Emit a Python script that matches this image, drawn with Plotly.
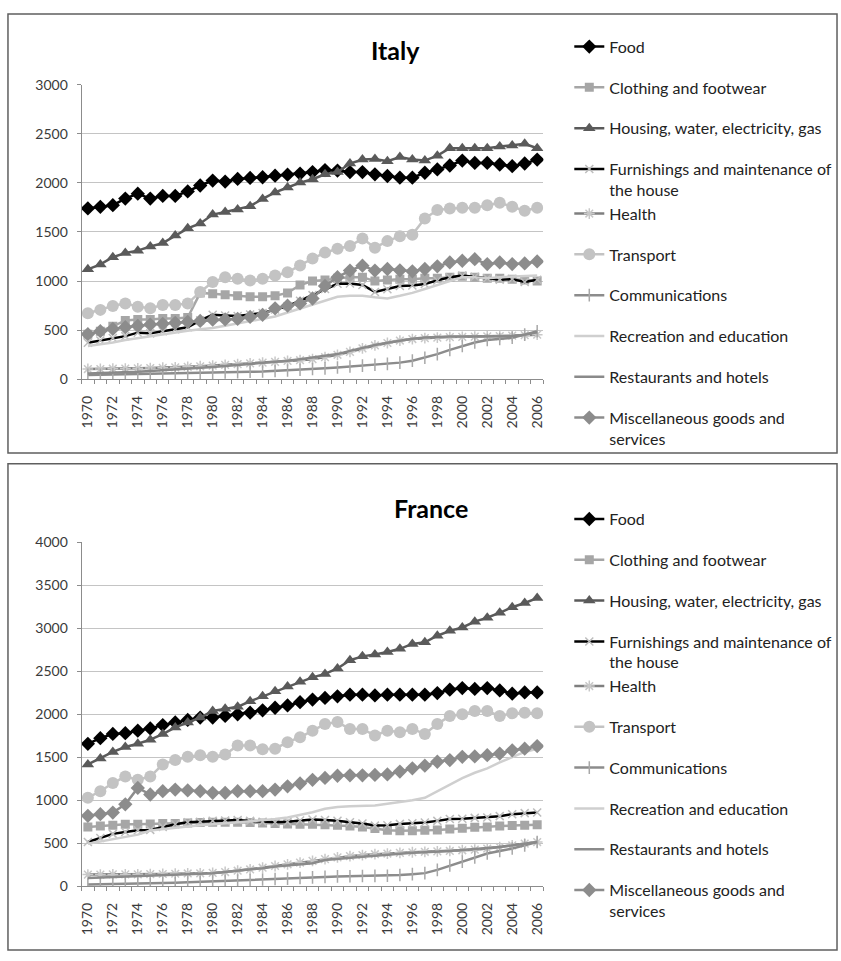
import plotly.graph_objects as go

# ---------------------------------------------------------------- data
years = [1970, 1971, 1972, 1973, 1974, 1975, 1976, 1977, 1978, 1979,
         1980, 1981, 1982, 1983, 1984, 1985, 1986, 1987, 1988, 1989,
         1990, 1991, 1992, 1993, 1994, 1995, 1996, 1997, 1998, 1999,
         2000, 2001, 2002, 2003, 2004, 2005, 2006]
year_ticks = [1970, 1972, 1974, 1976, 1978, 1980, 1982, 1984, 1986, 1988,
              1990, 1992, 1994, 1996, 1998, 2000, 2002, 2004, 2006]

legend_labels = [
    "Food",
    "Clothing and footwear",
    "Housing, water, electricity, gas",
    "Furnishings and maintenance of<br>the house",
    "Health",
    "Transport",
    "Communications",
    "Recreation and education",
    "Restaurants and hotels",
    "Miscellaneous goods and<br>services",
]

# Italy
it_food = [1740, 1756, 1773, 1840, 1890, 1840, 1867, 1867, 1913, 1973,
           2023, 2013, 2040, 2050, 2057, 2073, 2083, 2095, 2110, 2130,
           2125, 2110, 2110, 2087, 2070, 2053, 2053, 2103, 2137, 2177,
           2227, 2203, 2203, 2187, 2170, 2197, 2237]
it_clothing = [460, 490, 540, 600, 610, 610, 620, 620, 630, 880,
               870, 860, 850, 840, 840, 850, 880, 960, 1000, 1010,
               1030, 1040, 1040, 1000, 1010, 1020, 1020, 1030, 1030, 1040,
               1050, 1040, 1030, 1030, 1020, 1010, 1000]
it_housing = [1120, 1170, 1243, 1287, 1310, 1353, 1387, 1463, 1537, 1587,
              1677, 1703, 1730, 1763, 1837, 1903, 1953, 2003, 2037, 2087,
              2110, 2197, 2237, 2243, 2220, 2263, 2237, 2227, 2277, 2353,
              2353, 2353, 2353, 2370, 2380, 2397, 2353]
it_furnishings = [373, 395, 420, 440, 475, 468, 490, 510, 530, 600,
                  657, 650, 645, 660, 675, 710, 745, 800, 857, 920,
                  973, 975, 960, 890, 918, 950, 955, 970, 1007, 1040,
                  1057, 1045, 1030, 1015, 1020, 990, 1013]
it_health = [105, 105, 108, 110, 112, 115, 118, 122, 127, 133,
             140, 147, 155, 162, 170, 178, 187, 195, 205, 225,
             250, 280, 315, 345, 370, 395, 410, 420, 425, 430,
             432, 435, 438, 440, 445, 450, 455]
it_transport = [673, 707, 747, 773, 740, 723, 757, 757, 773, 890,
                990, 1040, 1023, 1007, 1023, 1057, 1090, 1160, 1230, 1290,
                1330, 1357, 1433, 1340, 1407, 1457, 1473, 1637, 1723, 1740,
                1747, 1747, 1773, 1797, 1757, 1717, 1747]
it_communications = [45, 47, 50, 52, 55, 57, 58, 60, 62, 65,
                     67, 70, 73, 77, 80, 85, 90, 97, 105, 112,
                     120, 130, 140, 148, 157, 170, 190, 220, 257, 300,
                     340, 375, 400, 410, 423, 455, 490]
it_recreation = [340, 355, 375, 400, 420, 440, 455, 475, 495, 510,
                 523, 545, 570, 595, 615, 640, 680, 720, 757, 800,
                 840, 850, 850, 835, 823, 850, 880, 920, 960, 1000,
                 1040, 1040, 1030, 1040, 1045, 1050, 1057]
it_restaurants = [60, 63, 67, 72, 77, 85, 92, 100, 108, 117,
                  125, 135, 145, 155, 165, 175, 190, 205, 223, 240,
                  257, 290, 323, 350, 373, 395, 413, 425, 433, 435,
                  435, 437, 438, 440, 440, 455, 480]
it_misc = [460, 490, 513, 530, 545, 557, 565, 575, 585, 595,
           607, 610, 615, 635, 657, 723, 750, 773, 823, 950,
           1040, 1107, 1157, 1107, 1123, 1110, 1100, 1123, 1150, 1190,
           1207, 1223, 1173, 1190, 1173, 1180, 1200]

# France
fr_food = [1657, 1722, 1772, 1780, 1810, 1836, 1874, 1905, 1935, 1962,
           1962, 1981, 2000, 2019, 2046, 2076, 2103, 2141, 2171, 2190,
           2209, 2228, 2228, 2220, 2228, 2228, 2228, 2228, 2247, 2286,
           2305, 2295, 2305, 2278, 2240, 2255, 2255]
fr_clothing = [690, 700, 710, 720, 720, 725, 730, 730, 735, 740,
               743, 745, 745, 740, 735, 730, 725, 720, 720, 715,
               710, 700, 690, 670, 650, 645, 645, 650, 655, 665,
               675, 685, 690, 700, 705, 710, 715]
fr_housing = [1417, 1486, 1562, 1619, 1657, 1705, 1770, 1847, 1905, 1962,
              2038, 2064, 2087, 2152, 2209, 2267, 2324, 2380, 2430, 2470,
              2533, 2629, 2674, 2697, 2724, 2762, 2819, 2838, 2914, 2971,
              3010, 3078, 3124, 3181, 3246, 3295, 3352]
fr_furnishings = [514, 560, 609, 630, 650, 655, 690, 720, 743, 750,
                  762, 765, 771, 760, 750, 743, 750, 765, 775, 770,
                  762, 745, 730, 705, 710, 725, 733, 740, 760, 781,
                  785, 795, 800, 815, 838, 850, 857]
fr_health = [135, 135, 137, 138, 138, 140, 142, 145, 148, 150,
             155, 165, 180, 195, 215, 235, 255, 275, 295, 315,
             335, 350, 362, 372, 380, 388, 395, 400, 405, 410,
             418, 425, 438, 455, 475, 495, 514]
fr_transport = [1029, 1105, 1200, 1276, 1238, 1276, 1417, 1467, 1505, 1524,
                1505, 1532, 1638, 1638, 1592, 1600, 1676, 1733, 1810, 1886,
                1910, 1829, 1829, 1752, 1810, 1790, 1829, 1772, 1886, 1981,
                2000, 2038, 2038, 1981, 2011, 2019, 2011]
fr_communications = [20, 22, 25, 27, 29, 30, 35, 40, 45, 50,
                     57, 62, 67, 72, 78, 83, 88, 95, 103, 108,
                     114, 116, 118, 120, 122, 130, 140, 152, 190, 240,
                     286, 335, 381, 410, 438, 475, 514]
fr_recreation = [495, 520, 545, 570, 600, 647, 665, 680, 695, 710,
                 724, 735, 745, 755, 765, 781, 800, 830, 860, 900,
                 921, 930, 935, 940, 960, 980, 1000, 1029, 1105, 1180,
                 1257, 1320, 1371, 1440, 1505, 1562, 1600]
fr_restaurants = [95, 100, 105, 110, 115, 120, 125, 130, 138, 145,
                  152, 165, 178, 190, 210, 229, 240, 248, 267, 305,
                  320, 335, 343, 355, 368, 381, 390, 395, 400, 410,
                  420, 430, 438, 455, 475, 495, 514]
fr_misc = [819, 838, 857, 952, 1143, 1067, 1105, 1124, 1114, 1105,
           1086, 1086, 1105, 1105, 1105, 1124, 1162, 1195, 1238, 1260,
           1285, 1290, 1290, 1295, 1300, 1333, 1371, 1402, 1448, 1467,
           1505, 1510, 1524, 1543, 1581, 1600, 1630]

italy = [it_food, it_clothing, it_housing, it_furnishings, it_health,
         it_transport, it_communications, it_recreation, it_restaurants, it_misc]
france = [fr_food, fr_clothing, fr_housing, fr_furnishings, fr_health,
          fr_transport, fr_communications, fr_recreation, fr_restaurants, fr_misc]

# ---------------------------------------------------------------- styles
# (line colour, marker symbol, marker size, marker fill, marker outline)
styles = [
    ("#000000", "diamond", 11, "#000000", None),
    ("#a6a6a6", "square", 9, "#a6a6a6", None),
    ("#5a5a5a", "triangle-up", 11, "#5a5a5a", None),
    ("#000000", "x-thin-open", 8, "#bdbdbd", "#bdbdbd"),
    ("#7f7f7f", "asterisk-open", 9, "#c8c8c8", "#c8c8c8"),
    ("#c3c3c3", "circle", 12, "#c3c3c3", None),
    ("#8c8c8c", "line-ns-open", 9, "#a8a8a8", "#a8a8a8"),
    ("#cfcfcf", None, 0, None, None),
    ("#8a8a8a", None, 0, None, None),
    ("#8c8c8c", "diamond", 11, "#8c8c8c", None),
]

W, H = 841, 961


def px_x(p):
    return p / W


def px_y(p):
    return 1 - p / H


fig = go.Figure()


def add_panel(series, xa, ya, legend, tag):
    for i, (vals, (lc, sym, size, fill, outline)) in enumerate(zip(series, styles)):
        # Furnishings and Health share a legend block so their entries sit tight
        group = f"{tag}-furn" if i in (3, 4) else f"{tag}-{i}"
        marker = dict(symbol=sym or "circle", size=size, color=fill)
        if outline:
            marker["line"] = dict(color=outline, width=1.5)
        fig.add_trace(go.Scatter(
            x=years, y=vals, name=legend_labels[i],
            mode="lines+markers" if sym else "lines",
            line=dict(color=lc, width=2.5),
            marker=marker,
            xaxis=xa, yaxis=ya, legend=legend, legendgroup=group,
        ))


add_panel(italy, "x", "y", "legend", "it")
add_panel(france, "x2", "y2", "legend2", "fr")

axis_font = dict(family="Lato", size=14, color="#3a3a3a")
xcommon = dict(
    range=[1969.5, 2006.5], tickmode="array", tickvals=year_ticks,
    ticktext=[str(y) for y in year_ticks], tickangle=-90, tickfont=axis_font,
    showgrid=False, showline=True, linecolor="#8c8c8c", linewidth=1,
    ticks="", ticklabelstandoff=10, zeroline=False,
    minor=dict(tickmode="linear", tick0=1969.5, dtick=1, ticks="outside",
               ticklen=4, tickcolor="#8c8c8c", showgrid=False),
)
ycommon = dict(
    tickfont=axis_font, showgrid=True, gridcolor="#c4c4c4", gridwidth=1,
    showline=True, linecolor="#8c8c8c", linewidth=1, ticks="outside",
    ticklen=4, tickcolor="#8c8c8c", zeroline=False, ticklabelstandoff=6,
)

legend_font = dict(family="Lato", size=16, color="#222222")
plot_x = [px_x(79), px_x(543)]
fig.update_layout(
    width=W, height=H, margin=dict(l=0, r=0, t=0, b=0),
    paper_bgcolor="white", plot_bgcolor="white",
    font=dict(family="Lato", color="#222222"),
    xaxis=dict(domain=plot_x, anchor="y", **xcommon),
    yaxis=dict(domain=[px_y(377), px_y(77)], range=[0, 3000], dtick=500,
               anchor="x", **ycommon),
    xaxis2=dict(domain=plot_x, anchor="y2", **xcommon),
    yaxis2=dict(domain=[px_y(893), px_y(543)], range=[0, 4000], dtick=500,
                anchor="x2", **ycommon),
    legend=dict(x=px_x(569), y=px_y(21), xanchor="left", yanchor="top",
                font=legend_font, tracegroupgap=17, valign="top",
                bgcolor="rgba(0,0,0,0)"),
    legend2=dict(x=px_x(569), y=px_y(502), xanchor="left", yanchor="top",
                 font=legend_font, tracegroupgap=17, valign="top",
                 bgcolor="rgba(0,0,0,0)"),
    shapes=[
        dict(type="rect", xref="paper", yref="paper",
             x0=px_x(5), x1=px_x(838), y0=px_y(452), y1=px_y(5),
             line=dict(color="#5f5f5f", width=1.5)),
        dict(type="rect", xref="paper", yref="paper",
             x0=px_x(5), x1=px_x(838), y0=px_y(958), y1=px_y(463),
             line=dict(color="#5f5f5f", width=1.5)),
    ],
    annotations=[
        dict(text="<b>Italy</b>", x=px_x(394), y=px_y(42), xref="paper",
             yref="paper", showarrow=False, xanchor="center", yanchor="middle",
             font=dict(family="Lato", size=25, color="#000000")),
        dict(text="<b>France</b>", x=px_x(430), y=px_y(508), xref="paper",
             yref="paper", showarrow=False, xanchor="center", yanchor="middle",
             font=dict(family="Lato", size=25, color="#000000")),
    ],
)

fig.write_html("out.html")
